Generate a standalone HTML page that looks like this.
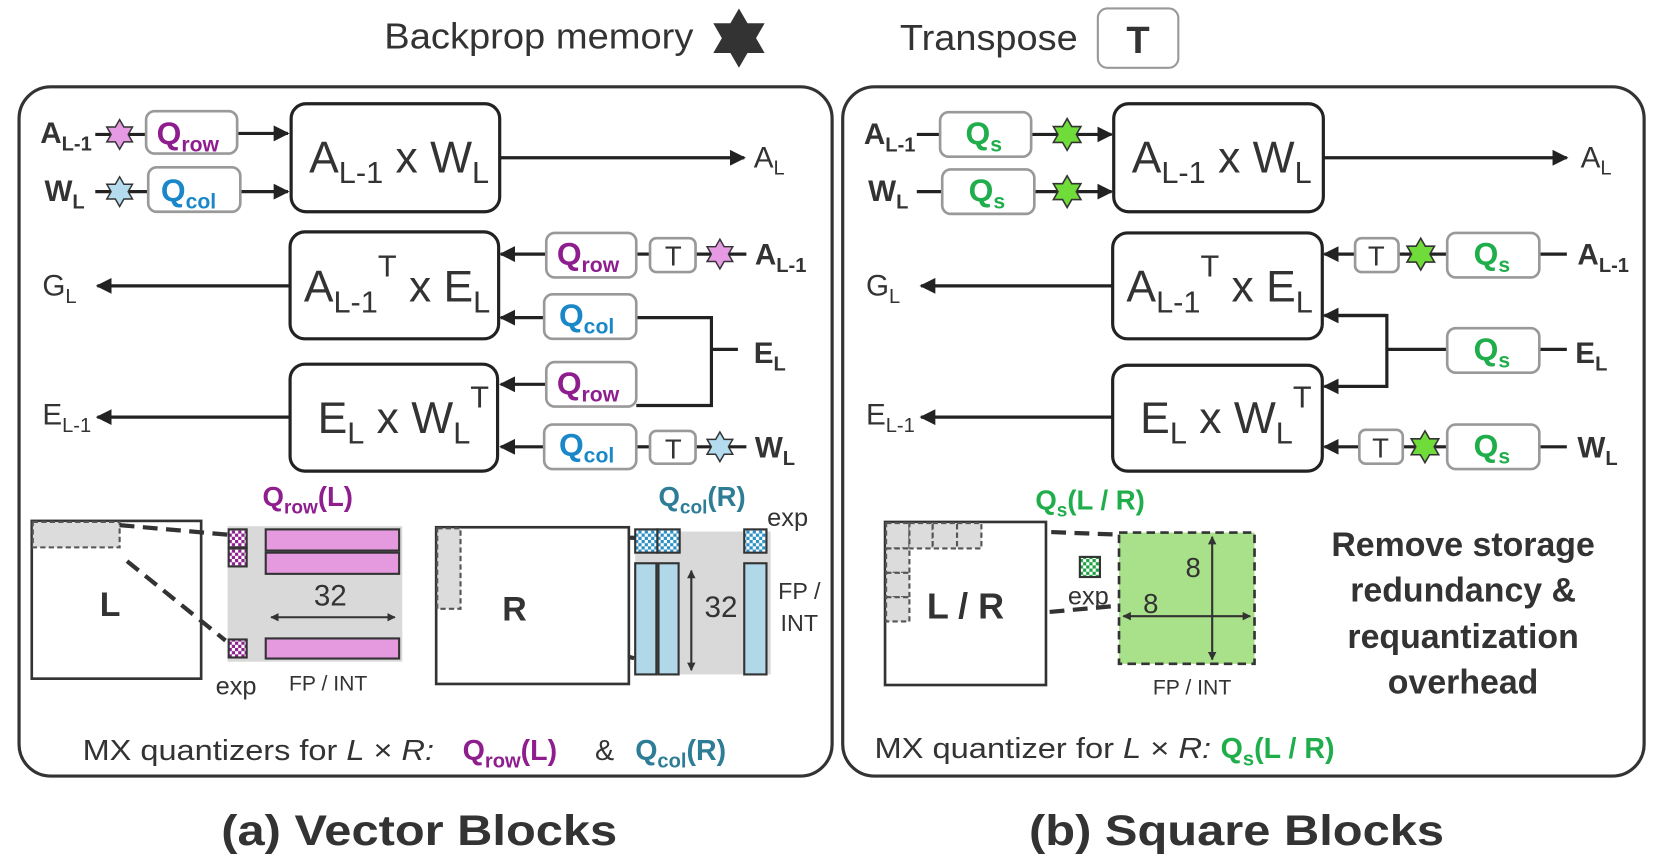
<!DOCTYPE html>
<html><head><meta charset="utf-8"><style>
html,body{margin:0;padding:0;background:#fff;}
svg{display:block;}
text{font-family:"Liberation Sans",sans-serif;fill:#333;}
.b{font-weight:bold;}
.qr{fill:#8e1e8e;font-weight:bold;}
.qc{fill:#1a87c9;font-weight:bold;}
.qt{fill:#2e7d96;font-weight:bold;}
.qs{fill:#1fae4b;font-weight:bold;}
</style></head><body>
<svg width="1660" height="865" viewBox="0 0 1568 817" preserveAspectRatio="none" xmlns="http://www.w3.org/2000/svg">
<defs>
<polygon id="star" points="0,-1 0.289,-0.5 0.866,-0.5 0.577,0 0.866,0.5 0.289,0.5 0,1 -0.289,0.5 -0.866,0.5 -0.577,0 -0.866,-0.5 -0.289,-0.5"/>
<marker id="ar" viewBox="0 0 10 10" refX="9" refY="5" markerWidth="5" markerHeight="5" orient="auto"><path d="M0,0L10,5L0,10z" fill="#222"/></marker>
<marker id="ar2" viewBox="0 0 10 10" refX="9" refY="5" markerWidth="4" markerHeight="4" orient="auto-start-reverse"><path d="M0,0L10,5L0,10z" fill="#333"/></marker>
<pattern id="cp" width="6" height="6" patternUnits="userSpaceOnUse"><rect width="6" height="6" fill="#fff"/><rect width="3" height="3" fill="#8e1e8e"/><rect x="3" y="3" width="3" height="3" fill="#8e1e8e"/></pattern>
<pattern id="cb" width="6" height="6" patternUnits="userSpaceOnUse"><rect width="6" height="6" fill="#fff"/><rect width="3" height="3" fill="#2a8fc4"/><rect x="3" y="3" width="3" height="3" fill="#2a8fc4"/></pattern>
<pattern id="cg" width="6" height="6" patternUnits="userSpaceOnUse"><rect width="6" height="6" fill="#fff"/><rect width="3" height="3" fill="#1aa040"/><rect x="3" y="3" width="3" height="3" fill="#1aa040"/></pattern>
</defs>

<!-- legend -->
<text x="363" y="46" font-size="34" textLength="292" lengthAdjust="spacingAndGlyphs">Backprop memory</text>
<use href="#star" transform="translate(698,36) scale(28)" fill="#333" stroke="none"/>
<text x="850" y="47" font-size="34" textLength="168" lengthAdjust="spacingAndGlyphs">Transpose</text>
<rect x="1037" y="8" width="76" height="56" rx="9" fill="#fff" stroke="#999" stroke-width="2"/>
<text x="1075" y="50" font-size="36" class="b" text-anchor="middle">T</text>

<!-- panels -->
<rect x="18" y="82" width="768" height="651" rx="30" fill="none" stroke="#333" stroke-width="3"/>
<rect x="796" y="82" width="757" height="651" rx="30" fill="none" stroke="#333" stroke-width="3"/>
<text x="396" y="798" font-size="40" class="b" text-anchor="middle" textLength="374" lengthAdjust="spacingAndGlyphs">(a) Vector Blocks</text>
<text x="1168" y="798" font-size="40" class="b" text-anchor="middle" textLength="392" lengthAdjust="spacingAndGlyphs">(b) Square Blocks</text>

<g stroke="#222" stroke-width="3" fill="none">
<line x1="90" y1="127" x2="138" y2="127"/>
<line x1="224" y1="126" x2="272" y2="126" marker-end="url(#ar)"/>
<line x1="90" y1="181" x2="140" y2="181"/>
<line x1="227" y1="181" x2="272" y2="181" marker-end="url(#ar)"/>
<line x1="472" y1="149" x2="703" y2="149" marker-end="url(#ar)"/>
<line x1="274" y1="270" x2="92" y2="270" marker-end="url(#ar)"/>
<line x1="274" y1="394" x2="92" y2="394" marker-end="url(#ar)"/>
<line x1="516" y1="240" x2="473" y2="240" marker-end="url(#ar)"/>
<line x1="601" y1="240" x2="614" y2="240"/>
<line x1="657" y1="240" x2="705" y2="240"/>
<line x1="514" y1="300" x2="473" y2="300" marker-end="url(#ar)"/>
<line x1="516" y1="363" x2="473" y2="363" marker-end="url(#ar)"/>
<polyline points="601,300 672,300 672,383 601,383"/>
<line x1="672" y1="330" x2="697" y2="330"/>
<line x1="514" y1="422" x2="473" y2="422" marker-end="url(#ar)"/>
<line x1="601" y1="422" x2="614" y2="422"/>
<line x1="657" y1="422" x2="705" y2="422"/>
<line x1="866" y1="127" x2="888" y2="127"/>
<line x1="974" y1="127" x2="1050" y2="127" marker-end="url(#ar)"/>
<line x1="866" y1="181" x2="890" y2="181"/>
<line x1="977" y1="181" x2="1050" y2="181" marker-end="url(#ar)"/>
<line x1="1250" y1="149" x2="1480" y2="149" marker-end="url(#ar)"/>
<line x1="1051" y1="270" x2="870" y2="270" marker-end="url(#ar)"/>
<line x1="1051" y1="394" x2="870" y2="394" marker-end="url(#ar)"/>
<line x1="1280" y1="240" x2="1251" y2="240" marker-end="url(#ar)"/>
<line x1="1321" y1="240" x2="1367" y2="240"/>
<line x1="1454" y1="240" x2="1480" y2="240"/>
<polyline points="1251,298 1310,298 1310,365 1251,365"/>
<line x1="1310" y1="298" x2="1251" y2="298" marker-end="url(#ar)"/>
<line x1="1310" y1="365" x2="1251" y2="365" marker-end="url(#ar)"/>
<line x1="1310" y1="330" x2="1367" y2="330"/>
<line x1="1454" y1="330" x2="1480" y2="330"/>
<line x1="1284" y1="422" x2="1251" y2="422" marker-end="url(#ar)"/>
<line x1="1325" y1="422" x2="1367" y2="422"/>
<line x1="1454" y1="422" x2="1480" y2="422"/>
</g>

<g fill="#fff" stroke="#222" stroke-width="3">
<rect x="275" y="98" width="197" height="102" rx="14"/>
<rect x="274" y="219" width="197" height="101" rx="14"/>
<rect x="274" y="344" width="196" height="101" rx="14"/>
<rect x="1052" y="98" width="198" height="102" rx="14"/>
<rect x="1051" y="220" width="198" height="100" rx="14"/>
<rect x="1051" y="345" width="198" height="100" rx="14"/>
</g>
<g fill="#fff" stroke="#999" stroke-width="2.5">
<rect x="138" y="105" width="86" height="40" rx="8"/>
<rect x="140" y="158" width="87" height="42" rx="8"/>
<rect x="516" y="220" width="85" height="42" rx="8"/>
<rect x="514" y="278" width="87" height="42" rx="8"/>
<rect x="516" y="342" width="85" height="42" rx="8"/>
<rect x="514" y="401" width="87" height="42" rx="8"/>
<rect x="614" y="225" width="43" height="32" rx="6"/>
<rect x="614" y="407" width="43" height="31" rx="6"/>
<rect x="888" y="106" width="86" height="42" rx="8"/>
<rect x="890" y="160" width="87" height="42" rx="8"/>
<rect x="1367" y="220" width="87" height="42" rx="8"/>
<rect x="1367" y="310" width="87" height="42" rx="8"/>
<rect x="1367" y="401" width="87" height="42" rx="8"/>
<rect x="1280" y="225" width="41" height="32" rx="6"/>
<rect x="1284" y="406" width="41" height="32" rx="6"/>
</g>
<g stroke="#333" stroke-width="0.1">
<use href="#star" transform="translate(113,127) scale(14)" fill="#e59ae3"/>
<use href="#star" transform="translate(113,181) scale(14)" fill="#b4dcee"/>
<use href="#star" transform="translate(680,240) scale(14)" fill="#e59ae3"/>
<use href="#star" transform="translate(680,422) scale(14)" fill="#b4dcee"/>
<use href="#star" transform="translate(1008,127) scale(15)" fill="#6fdc3a"/>
<use href="#star" transform="translate(1008,181) scale(15)" fill="#6fdc3a"/>
<use href="#star" transform="translate(1342,240) scale(15)" fill="#6fdc3a"/>
<use href="#star" transform="translate(1346,422) scale(15)" fill="#6fdc3a"/>
</g>

<g font-size="30">
<text x="148" y="136" class="qr">Q<tspan font-size="20" dy="7">row</tspan></text>
<text x="152" y="190" class="qc">Q<tspan font-size="20" dy="7">col</tspan></text>
<text x="526" y="250" class="qr">Q<tspan font-size="20" dy="7">row</tspan></text>
<text x="528" y="308" class="qc">Q<tspan font-size="20" dy="7">col</tspan></text>
<text x="526" y="372" class="qr">Q<tspan font-size="20" dy="7">row</tspan></text>
<text x="528" y="430" class="qc">Q<tspan font-size="20" dy="7">col</tspan></text>
<text x="912" y="136" class="qs">Q<tspan font-size="20" dy="7">s</tspan></text>
<text x="915" y="190" class="qs">Q<tspan font-size="20" dy="7">s</tspan></text>
<text x="1392" y="250" class="qs">Q<tspan font-size="20" dy="7">s</tspan></text>
<text x="1392" y="340" class="qs">Q<tspan font-size="20" dy="7">s</tspan></text>
<text x="1392" y="431" class="qs">Q<tspan font-size="20" dy="7">s</tspan></text>
</g>
<g font-size="26" text-anchor="middle">
<text x="636" y="251">T</text><text x="636" y="433">T</text>
<text x="1300" y="251">T</text><text x="1304" y="432">T</text>
</g>

<g font-size="28">
<text x="38" y="135" class="b">A<tspan font-size="19" dy="7">L-1</tspan></text>
<text x="42" y="190" class="b">W<tspan font-size="19" dy="7">L</tspan></text>
<text x="713" y="250" class="b">A<tspan font-size="19" dy="7">L-1</tspan></text>
<text x="712" y="343" class="b">E<tspan font-size="19" dy="7">L</tspan></text>
<text x="713" y="432" class="b">W<tspan font-size="19" dy="7">L</tspan></text>
<text x="712" y="158">A<tspan font-size="19" dy="7">L</tspan></text>
<text x="40" y="279">G<tspan font-size="19" dy="7">L</tspan></text>
<text x="40" y="401">E<tspan font-size="19" dy="7">L-1</tspan></text>
<text x="816" y="136" class="b">A<tspan font-size="19" dy="7">L-1</tspan></text>
<text x="820" y="190" class="b">W<tspan font-size="19" dy="7">L</tspan></text>
<text x="1490" y="250" class="b">A<tspan font-size="19" dy="7">L-1</tspan></text>
<text x="1488" y="343" class="b">E<tspan font-size="19" dy="7">L</tspan></text>
<text x="1490" y="432" class="b">W<tspan font-size="19" dy="7">L</tspan></text>
<text x="1493" y="158">A<tspan font-size="19" dy="7">L</tspan></text>
<text x="818" y="279">G<tspan font-size="19" dy="7">L</tspan></text>
<text x="818" y="401">E<tspan font-size="19" dy="7">L-1</tspan></text>
</g>

<g font-size="42">
<text x="292" y="163">A<tspan font-size="29" dy="10">L-1</tspan><tspan dy="-10"> x W</tspan><tspan font-size="29" dy="10">L</tspan></text>
<text x="287" y="285">A<tspan font-size="29" dy="10">L-1</tspan><tspan font-size="29" dy="-34">T</tspan><tspan dy="24"> x E</tspan><tspan font-size="29" dy="10">L</tspan></text>
<text x="300" y="409">E<tspan font-size="29" dy="10">L</tspan><tspan dy="-10"> x W</tspan><tspan font-size="29" dy="10">L</tspan><tspan font-size="29" dy="-34">T</tspan></text>
<text x="1069" y="163">A<tspan font-size="29" dy="10">L-1</tspan><tspan dy="-10"> x W</tspan><tspan font-size="29" dy="10">L</tspan></text>
<text x="1064" y="285">A<tspan font-size="29" dy="10">L-1</tspan><tspan font-size="29" dy="-34">T</tspan><tspan dy="24"> x E</tspan><tspan font-size="29" dy="10">L</tspan></text>
<text x="1077" y="409">E<tspan font-size="29" dy="10">L</tspan><tspan dy="-10"> x W</tspan><tspan font-size="29" dy="10">L</tspan><tspan font-size="29" dy="-34">T</tspan></text>
</g>

<rect x="30" y="492" width="160" height="149" fill="#fff" stroke="#333" stroke-width="2.5"/>
<rect x="31" y="493" width="82" height="24" fill="#dcdcdc" stroke="#555" stroke-width="2" stroke-dasharray="5,3"/>
<text x="104" y="582" font-size="32" class="b" text-anchor="middle">L</text>
<rect x="215" y="497" width="165" height="128" fill="#d9d9d9"/>
<g stroke="#333" stroke-width="4" stroke-dasharray="14,8" fill="none">
<line x1="113" y1="496" x2="215" y2="505"/>
<line x1="120" y1="530" x2="213" y2="605"/>
<line x1="433" y1="503" x2="600" y2="508"/>
<line x1="437" y1="577" x2="600" y2="622"/>
<line x1="927" y1="500" x2="1057" y2="505"/>
<line x1="860" y1="590" x2="1057" y2="572"/>
</g>
<g stroke="#333" stroke-width="2">
<rect x="216" y="500" width="17" height="17" fill="url(#cp)"/>
<rect x="216" y="518" width="17" height="17" fill="url(#cp)"/>
<rect x="216" y="604" width="17" height="17" fill="url(#cp)"/>
<rect x="251" y="500" width="126" height="20" fill="#e59ae0"/>
<rect x="251" y="522" width="126" height="20" fill="#e59ae0"/>
<rect x="251" y="603" width="126" height="19" fill="#e59ae0"/>
</g>
<text x="312" y="572" font-size="28" text-anchor="middle">32</text>
<line x1="256" y1="583" x2="373" y2="583" stroke="#333" stroke-width="2" marker-start="url(#ar2)" marker-end="url(#ar2)"/>
<text x="223" y="656" font-size="24" text-anchor="middle">exp</text>
<text x="310" y="652" font-size="20" text-anchor="middle">FP / INT</text>
<text x="248" y="478" font-size="26" class="qr">Q<tspan font-size="18" dy="7">row</tspan><tspan dy="-7">(L)</tspan></text>

<rect x="412" y="498" width="182" height="148" fill="#fff" stroke="#333" stroke-width="2.5"/>
<rect x="413" y="499" width="22" height="76" fill="#dcdcdc" stroke="#555" stroke-width="2" stroke-dasharray="5,3"/>
<text x="486" y="586" font-size="32" class="b" text-anchor="middle">R</text>
<rect x="600" y="502" width="128" height="135" fill="#d9d9d9"/>
<g stroke="#333" stroke-width="2">
<rect x="600" y="500" width="21" height="22" fill="url(#cb)"/>
<rect x="621" y="500" width="21" height="22" fill="url(#cb)"/>
<rect x="703" y="500" width="21" height="22" fill="url(#cb)"/>
<rect x="600" y="532" width="20" height="105" fill="#b0d8e8"/>
<rect x="622" y="532" width="19" height="105" fill="#b0d8e8"/>
<rect x="703" y="532" width="21" height="105" fill="#b0d8e8"/>
</g>
<line x1="653" y1="539" x2="653" y2="633" stroke="#333" stroke-width="2" marker-start="url(#ar2)" marker-end="url(#ar2)"/>
<text x="681" y="583" font-size="28" text-anchor="middle">32</text>
<text x="744" y="497" font-size="24" text-anchor="middle">exp</text>
<text x="755" y="566" font-size="22" text-anchor="middle">FP /</text>
<text x="755" y="596" font-size="22" text-anchor="middle">INT</text>
<text x="622" y="478" font-size="26" class="qt">Q<tspan font-size="18" dy="7">col</tspan><tspan dy="-7">(R)</tspan></text>

<text x="78" y="718" font-size="27" textLength="332" lengthAdjust="spacingAndGlyphs">MX quantizers for <tspan font-style="italic">L</tspan> × <tspan font-style="italic">R:</tspan></text>
<text x="437" y="718" font-size="27" class="qr">Q<tspan font-size="19" dy="7">row</tspan><tspan dy="-7">(L)</tspan></text>
<text x="562" y="718" font-size="27">&amp;</text>
<text x="600" y="718" font-size="27" class="qt">Q<tspan font-size="19" dy="7">col</tspan><tspan dy="-7">(R)</tspan></text>

<rect x="836" y="493" width="152" height="154" fill="#fff" stroke="#333" stroke-width="2.5"/>
<g fill="#dcdcdc" stroke="#555" stroke-width="2" stroke-dasharray="5,3">
<rect x="837" y="494" width="22" height="24"/><rect x="859" y="494" width="22" height="24"/><rect x="881" y="494" width="23" height="24"/><rect x="904" y="494" width="23" height="24"/>
<rect x="837" y="518" width="22" height="23"/><rect x="837" y="541" width="22" height="23"/><rect x="837" y="564" width="22" height="23"/>
</g>
<text x="912" y="584" font-size="34" class="b" text-anchor="middle">L / R</text>
<rect x="1057" y="503" width="128" height="124" fill="#a9e08a" stroke="#333" stroke-width="2.5" stroke-dasharray="8,5"/>
<line x1="1145" y1="507" x2="1145" y2="623" stroke="#333" stroke-width="2" marker-start="url(#ar2)" marker-end="url(#ar2)"/>
<line x1="1061" y1="582" x2="1181" y2="582" stroke="#333" stroke-width="2" marker-start="url(#ar2)" marker-end="url(#ar2)"/>
<text x="1127" y="545" font-size="26" text-anchor="middle">8</text>
<text x="1087" y="579" font-size="26" text-anchor="middle">8</text>
<rect x="1020" y="526" width="19" height="19" fill="url(#cg)" stroke="#333" stroke-width="2"/>
<text x="1028" y="571" font-size="24" text-anchor="middle">exp</text>
<text x="1126" y="656" font-size="20" text-anchor="middle">FP / INT</text>
<text x="978" y="481" font-size="26" class="qs">Q<tspan font-size="18" dy="7">s</tspan><tspan dy="-7">(L / R)</tspan></text>
<g font-size="32" class="b" text-anchor="middle">
<text x="1382" y="525">Remove storage</text>
<text x="1382" y="568">redundancy &amp;</text>
<text x="1382" y="612">requantization</text>
<text x="1382" y="655">overhead</text>
</g>
<text x="826" y="716" font-size="27" textLength="318" lengthAdjust="spacingAndGlyphs">MX quantizer for <tspan font-style="italic">L</tspan> × <tspan font-style="italic">R:</tspan></text>
<text x="1153" y="716" font-size="27" class="qs">Q<tspan font-size="19" dy="7">s</tspan><tspan dy="-7">(L / R)</tspan></text>
</svg>
</body></html>
